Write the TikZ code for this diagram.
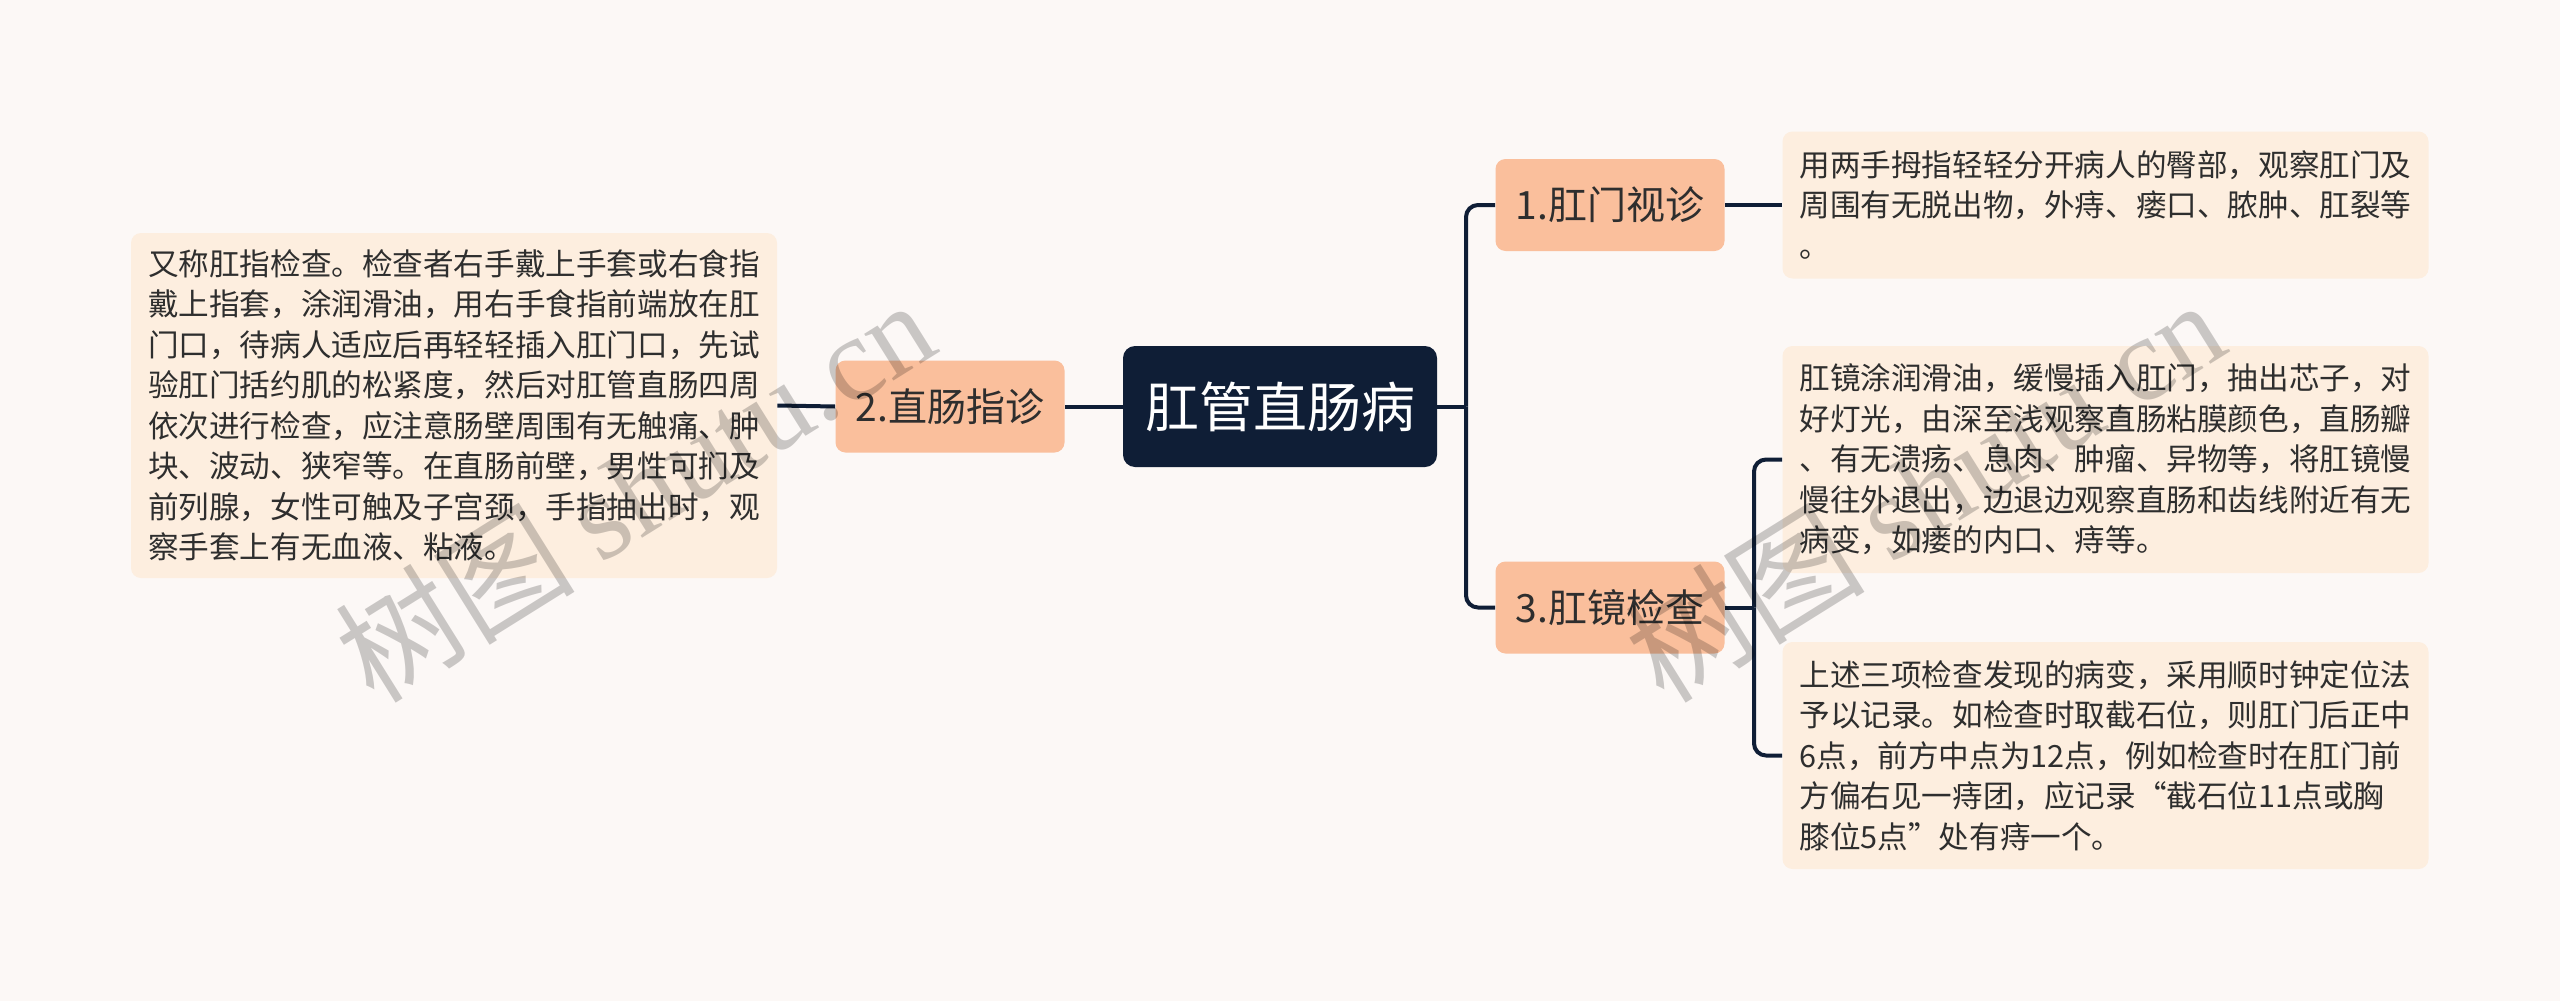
\documentclass[tikz,border=0pt]{standalone}
\usepackage{fontspec}
\setmainfont{Noto Sans CJK SC}
\newfontfamily\wmserif{Liberation Serif}

\definecolor{bgc}{HTML}{FCF8F6}
\definecolor{navy}{HTML}{0F1E36}
\definecolor{peach}{HTML}{FABF9C}
\definecolor{cream}{HTML}{FDEEDF}
\definecolor{txt}{HTML}{2E2E2E}

\begin{document}
\begin{tikzpicture}[x=0.5pt,y=-0.5pt,
  conn/.style={draw=navy,line width=2pt},
  rootbox/.style={fill=navy,text=white,rounded corners=6pt,minimum width=157pt,minimum height=60.5pt,inner sep=0pt,font=\fontsize{27pt}{32pt}\selectfont},
  branchbox/.style={fill=peach,text=txt,rounded corners=5pt,minimum width=114.5pt,minimum height=46pt,inner sep=0pt,font=\fontsize{19.5pt}{24pt}\selectfont},
  notebox/.style={fill=cream,text=txt,rounded corners=5pt,text width=306pt,inner xsep=8.5pt,inner ysep=0pt,align=left,font=\fontsize{15.3pt}{20.25pt}\selectfont},
  wm/.style={text=black,text opacity=0.2,rotate=32,anchor=base west,inner sep=0pt,font=\fontsize{60pt}{60pt}\selectfont}
]
\fill[bgc] (0,0) rectangle (2560,1001);
\useasboundingbox (0,0) rectangle (2560,1001);

% nodes
\node[rootbox] (root) at (1280,406.5) {肛管直肠病};
\node[branchbox] (b2) at (950,406.5) {2.直肠指诊};
\node[branchbox] (b1) at (1610,205) {1.肛门视诊};
\node[branchbox] (b3) at (1610,607.5) {3.肛镜检查};

\node[notebox,minimum height=172.5pt] (n2) at (454,405.5) {又称肛指检查。检查者右手戴上手套或右食指\\
戴上指套，涂润滑油，用右手食指前端放在肛\\
门口，待病人适应后再轻轻插入肛门口，先试\\
验肛门括约肌的松紧度，然后对肛管直肠四周\\
依次进行检查，应注意肠壁周围有无触痛、肿\\
块、波动、狭窄等。在直肠前壁，男性可扪及\\
前列腺，女性可触及子宫颈，手指抽出时，观\\
察手套上有无血液、粘液。};

\node[notebox,minimum height=73.5pt] (n1) at (2105.5,205) {用两手拇指轻轻分开病人的臀部，观察肛门及\\
周围有无脱出物，外痔、瘘口、脓肿、肛裂等\\
。};

\node[notebox,minimum height=113.5pt] (n3a) at (2105.5,459.5) {肛镜涂润滑油，缓慢插入肛门，抽出芯子，对\\
好灯光，由深至浅观察直肠粘膜颜色，直肠瓣\\
、有无溃疡、息肉、肿瘤、异物等，将肛镜慢\\
慢往外退出，边退边观察直肠和齿线附近有无\\
病变，如瘘的内口、痔等。};

\node[notebox,minimum height=113.5pt] (n3b) at (2105.5,755.5) {上述三项检查发现的病变，采用顺时钟定位法\\
予以记录。如检查时取截石位，则肛门后正中\\
6点，前方中点为12点，例如检查时在肛门前\\
方偏右见一痔团，应记录“截石位11点或胸\\
膝位5点”处有痔一个。};

% connectors
\draw[conn] (root.west) -- (b2.east);
\draw[conn] (b2.west) -- (n2.east);
\coordinate (t1) at (1466,406.5);
\draw[conn] (root.east) -- (t1);
\draw[conn,rounded corners=6pt] (t1) |- (b1.west);
\draw[conn,rounded corners=6pt] (t1) |- (b3.west);
\draw[conn] (b1.east) -- (n1.west);
\coordinate (t3) at (1754,607.5);
\draw[conn] (b3.east) -- (t3);
\draw[conn,rounded corners=6pt] (t3) |- (n3a.west);
\draw[conn,rounded corners=6pt] (t3) |- (n3b.west);

% watermarks
\node[wm] (wm1) at (374,706) {树图 {\wmserif shutu.cn}};
\node[wm] (wm2) at (1664,706) {树图 {\wmserif shutu.cn}};
\end{tikzpicture}
\end{document}
